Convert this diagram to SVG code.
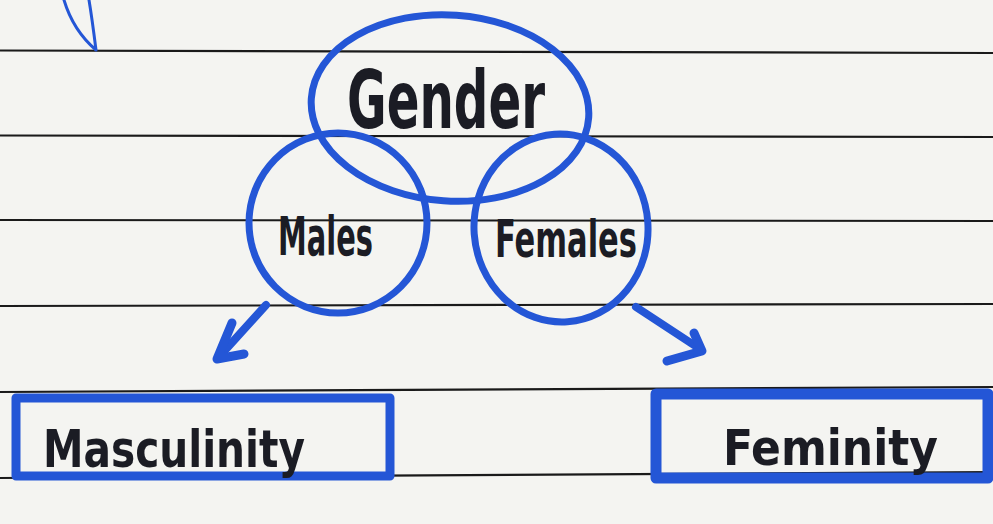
<svg xmlns="http://www.w3.org/2000/svg" width="993" height="524" viewBox="0 0 993 524">
<style>
.rule{stroke:#1a1a1a;stroke-width:2.2;fill:none}
.ink{stroke:#2456d6;fill:none;stroke-linecap:round;stroke-linejoin:round}
.txt{font-family:"DejaVu Sans","Liberation Sans",sans-serif;font-weight:bold;font-stretch:condensed;fill:#1b1c24}
</style>
<rect x="0" y="0" width="993" height="524" fill="#f4f4f1"/>
<g id="paper">
<line class="rule" x1="0" y1="50.5" x2="993" y2="53"/>
<line class="rule" x1="0" y1="135.5" x2="993" y2="137"/>
<line class="rule" x1="0" y1="220" x2="993" y2="221"/>
<line class="rule" x1="0" y1="306" x2="993" y2="304"/>
<line class="rule" x1="0" y1="392" x2="993" y2="387"/>
<line class="rule" x1="0" y1="478" x2="993" y2="472"/>
<path class="ink" stroke-width="3" d="M64 0 C70 20 82 38 96 50 M89 0 C92 18 94 34 96 50"/>
</g>
<g id="node-gender">
<ellipse class="ink" stroke-width="7" cx="450" cy="108" rx="139" ry="93" transform="rotate(4 450 108)"/>
<text class="txt" x="347" y="128" font-size="80" textLength="198" lengthAdjust="spacingAndGlyphs">Gender</text>
</g>
<g id="node-males">
<ellipse class="ink" stroke-width="7" cx="338" cy="223" rx="89" ry="90"/>
<text class="txt" x="278" y="255" font-size="54" textLength="95" lengthAdjust="spacingAndGlyphs">Males</text>
</g>
<g id="node-females">
<ellipse class="ink" stroke-width="7" cx="561" cy="228" rx="87" ry="94" transform="rotate(-4 561 228)"/>
<text class="txt" x="495" y="257" font-size="52" textLength="142" lengthAdjust="spacingAndGlyphs">Females</text>
</g>
<g id="node-masculinity">
<rect class="ink" stroke-width="9" x="16" y="398" width="374" height="78"/>
<text class="txt" x="43" y="467" font-size="52" textLength="262" lengthAdjust="spacingAndGlyphs">Masculinity</text>
</g>
<g id="node-feminity">
<rect class="ink" stroke-width="11" x="656" y="394" width="332" height="84"/>
<text class="txt" x="723" y="465" font-size="50" textLength="215" lengthAdjust="spacingAndGlyphs">Feminity</text>
</g>
<g id="connectors">
<path class="ink" stroke-width="8" d="M266 305 L218 358"/>
<path class="ink" stroke-width="9" d="M232 323 L217 359 L244 354"/>
<path class="ink" stroke-width="8" d="M636 307 L700 349"/>
<path class="ink" stroke-width="9" d="M694 333 L702 351 L667 361"/>
</g>
</svg>
